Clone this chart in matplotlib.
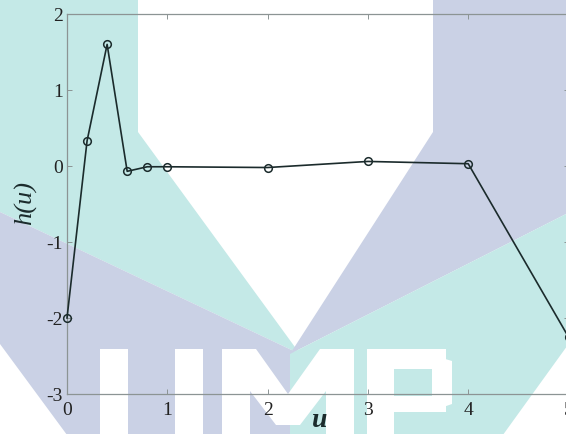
import matplotlib
matplotlib.use("Agg")
import matplotlib.pyplot as plt
from matplotlib.patches import Polygon
from matplotlib.transforms import Affine2D

# ---- data ----
u_vals = [0.0, 0.2, 0.4, 0.6, 0.8, 1.0, 2.0, 3.0, 4.0, 5.0]
h_vals = [-2.0, 0.33, 1.60, -0.07, -0.01, -0.01, -0.02, 0.06, 0.03, -2.25]
x_ticks = [0, 1, 2, 3, 4, 5]
y_ticks = [-3, -2, -1, 0, 1, 2]

W, H = 566, 435
plt.rcParams['axes.unicode_minus'] = False
plt.rcParams['font.family'] = ['Liberation Serif', 'DejaVu Serif']

fig = plt.figure(figsize=(W / 100, H / 100), dpi=100)
fig.patch.set_facecolor('white')

# ---- background watermark (decoration, in figure pixel coords, y down) ----
pix = Affine2D().scale(1 / W, -1 / H).translate(0, 1) + fig.transFigure
teal = '#c4e9e7'
lav = '#cad1e5'
shapes = [
    ([(0, 0), (138, 0), (138, 133), (300, 355), (0, 213)], teal),
    ([(0, 213), (300, 355), (300, 440), (70, 440), (0, 345)], lav),
    ([(433, 0), (570, 0), (570, 213), (290, 355), (433, 133)], lav),
    ([(570, 213), (290, 355), (290, 440), (500, 440), (570, 343)], teal),
    # U
    ([(100, 350), (128, 350), (128, 440), (100, 440)], 'white'),
    ([(175, 350), (203, 350), (203, 440), (175, 440)], 'white'),
    # M
    ([(222, 350), (256, 350), (288, 395), (320, 350), (354, 350), (354, 440),
      (326, 440), (326, 392), (300, 426), (276, 426), (250, 392), (250, 440),
      (222, 440)], 'white'),
    # P
    ([(367, 350), (394, 350), (394, 440), (367, 440)], 'white'),
    ([(367, 350), (446, 350), (446, 370), (367, 370)], 'white'),
    ([(432, 356), (452, 362), (452, 405), (432, 412)], 'white'),
    ([(394, 397), (446, 397), (446, 413), (394, 413)], 'white'),
]
for pts, col in shapes:
    p = Polygon(pts, closed=True, facecolor=col, edgecolor='none',
                transform=pix, zorder=-10)
    fig.add_artist(p)

# ---- axes ----
left, right, top, bottom = 67, 568.5, 15, 395
ax = fig.add_axes([left / W, 1 - bottom / H, (right - left) / W, (bottom - top) / H])
ax.set_facecolor('none')

line_col = '#1b2b2c'
ax.plot(u_vals, h_vals, color=line_col, linewidth=1.2, marker='o',
        markersize=5.5, markerfacecolor='none', markeredgecolor=line_col,
        markeredgewidth=1.1, clip_on=False, zorder=3)

ax.set_xlim(0, 5)
ax.set_ylim(-3, 2)
ax.set_xticks(x_ticks)
ax.set_yticks(y_ticks)
ax.set_xticklabels([str(t) for t in x_ticks])
ax.set_yticklabels([str(t) for t in y_ticks])

spine_col = '#8c9494'
for s in ax.spines.values():
    s.set_color(spine_col)
    s.set_linewidth(0.9)
ax.tick_params(direction='in', length=3.5, width=0.7, color=spine_col,
               top=True, right=True, labelsize=14, labelcolor='#222222')
ax.tick_params(axis='x', pad=5)
ax.tick_params(axis='y', pad=3)

ax.set_xlabel('u', fontsize=20, fontstyle='italic', fontweight='bold',
              color='#1b2b2c')
ax.xaxis.set_label_coords((320 - left) / (right - left), -(408 - bottom) / (bottom - top))
ax.set_ylabel('h(u)', fontsize=19, fontstyle='italic', color='#1b2b2c')
ax.yaxis.set_label_coords(-(left - 37) / (right - left), (bottom - 203) / (bottom - top))

fig.savefig('out.png', dpi=100)
